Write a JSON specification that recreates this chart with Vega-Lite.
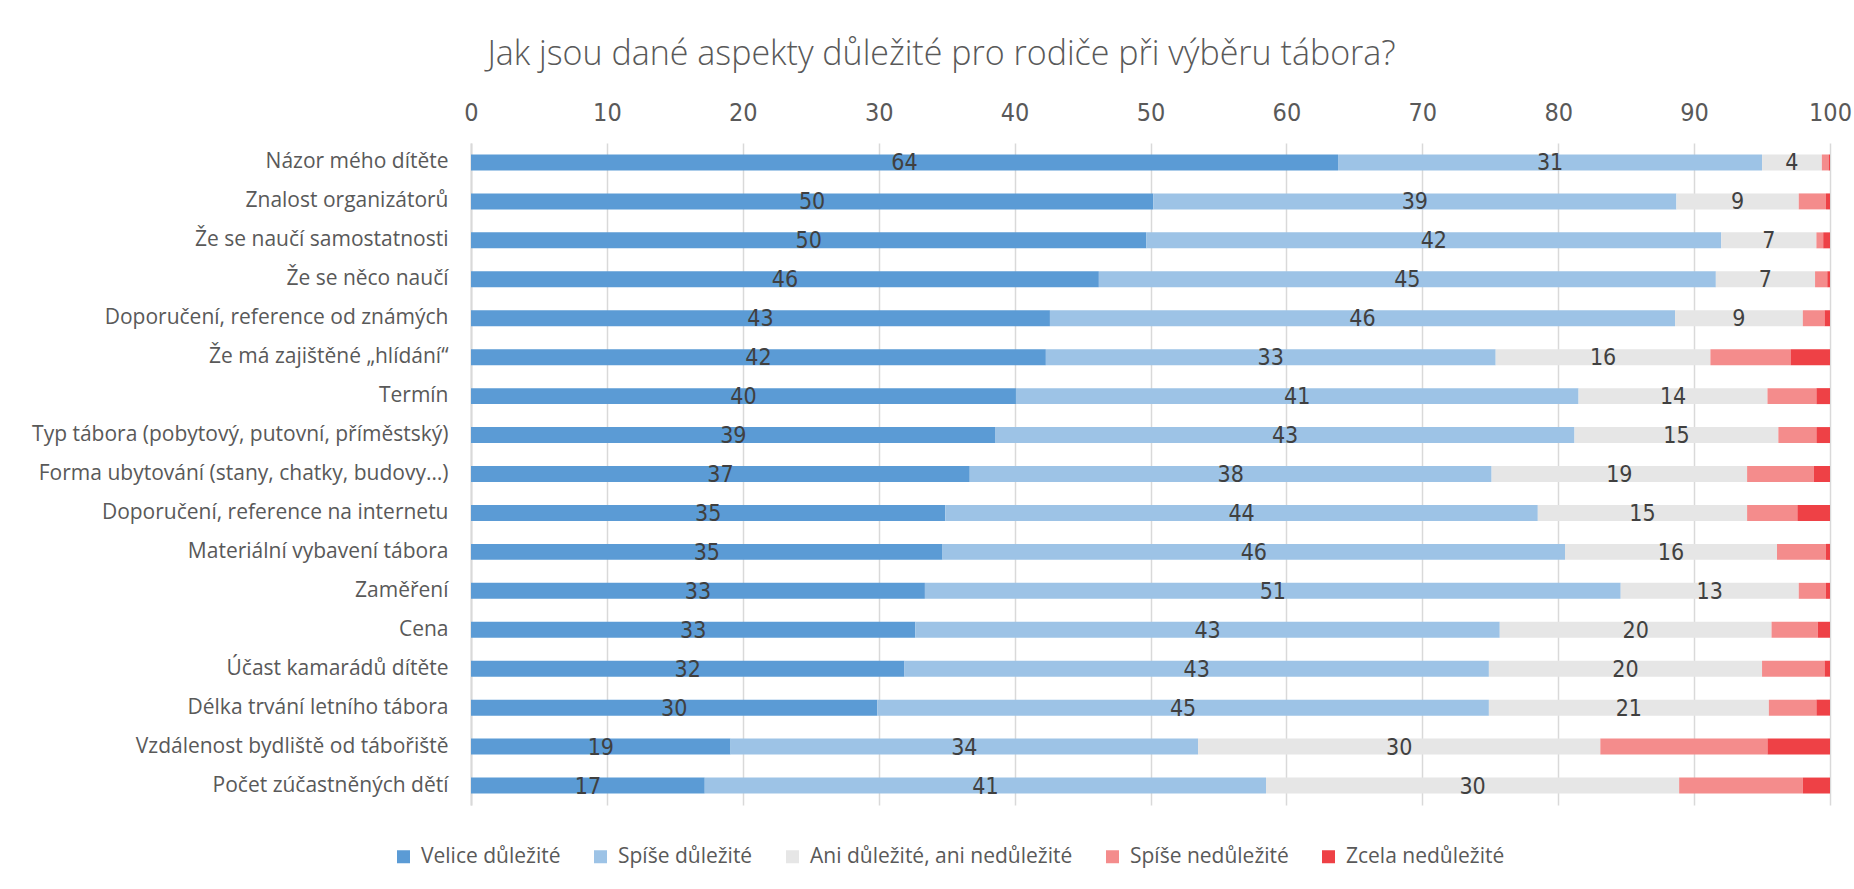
{
  "$schema": "https://vega.github.io/schema/vega-lite/v6.json",
  "autosize": {"type": "none"},
  "width": 1359,
  "height": 662,
  "padding": {"left": 471, "top": 143, "right": 24, "bottom": 84},
  "background": "white",
  "title": {
    "text": "Jak jsou dané aspekty důležité pro rodiče při výběru tábora?",
    "font": "Open Sans",
    "fontSize": 34,
    "fontWeight": 300,
    "color": "#595959",
    "anchor": "middle",
    "frame": "bounds",
    "offset": 28
  },
  "config": {"view": {"stroke": null}},
  "data": {
    "values": [
      {"aspect": "Názor mého dítěte", "level": "Velice důležité", "score": 1, "value": 63.8},
      {"aspect": "Názor mého dítěte", "level": "Spíše důležité", "score": 2, "value": 31.2},
      {"aspect": "Názor mého dítěte", "level": "Ani důležité, ani nedůležité", "score": 3, "value": 4.4},
      {"aspect": "Názor mého dítěte", "level": "Spíše nedůležité", "score": 4, "value": 0.5},
      {"aspect": "Názor mého dítěte", "level": "Zcela nedůležité", "score": 5, "value": 0.1},

      {"aspect": "Znalost organizátorů", "level": "Velice důležité", "score": 1, "value": 50.2},
      {"aspect": "Znalost organizátorů", "level": "Spíše důležité", "score": 2, "value": 38.5},
      {"aspect": "Znalost organizátorů", "level": "Ani důležité, ani nedůležité", "score": 3, "value": 9.0},
      {"aspect": "Znalost organizátorů", "level": "Spíše nedůležité", "score": 4, "value": 2.0},
      {"aspect": "Znalost organizátorů", "level": "Zcela nedůležité", "score": 5, "value": 0.3},

      {"aspect": "Že se naučí samostatnosti", "level": "Velice důležité", "score": 1, "value": 49.7},
      {"aspect": "Že se naučí samostatnosti", "level": "Spíše důležité", "score": 2, "value": 42.3},
      {"aspect": "Že se naučí samostatnosti", "level": "Ani důležité, ani nedůležité", "score": 3, "value": 7.0},
      {"aspect": "Že se naučí samostatnosti", "level": "Spíše nedůležité", "score": 4, "value": 0.5},
      {"aspect": "Že se naučí samostatnosti", "level": "Zcela nedůležité", "score": 5, "value": 0.5},

      {"aspect": "Že se něco naučí", "level": "Velice důležité", "score": 1, "value": 46.2},
      {"aspect": "Že se něco naučí", "level": "Spíše důležité", "score": 2, "value": 45.4},
      {"aspect": "Že se něco naučí", "level": "Ani důležité, ani nedůležité", "score": 3, "value": 7.3},
      {"aspect": "Že se něco naučí", "level": "Spíše nedůležité", "score": 4, "value": 0.9},
      {"aspect": "Že se něco naučí", "level": "Zcela nedůležité", "score": 5, "value": 0.2},

      {"aspect": "Doporučení, reference od známých", "level": "Velice důležité", "score": 1, "value": 42.6},
      {"aspect": "Doporučení, reference od známých", "level": "Spíše důležité", "score": 2, "value": 46.0},
      {"aspect": "Doporučení, reference od známých", "level": "Ani důležité, ani nedůležité", "score": 3, "value": 9.4},
      {"aspect": "Doporučení, reference od známých", "level": "Spíše nedůležité", "score": 4, "value": 1.6},
      {"aspect": "Doporučení, reference od známých", "level": "Zcela nedůležité", "score": 5, "value": 0.4},

      {"aspect": "Že má zajištěné „hlídání“", "level": "Velice důležité", "score": 1, "value": 42.3},
      {"aspect": "Že má zajištěné „hlídání“", "level": "Spíše důležité", "score": 2, "value": 33.1},
      {"aspect": "Že má zajištěné „hlídání“", "level": "Ani důležité, ani nedůležité", "score": 3, "value": 15.8},
      {"aspect": "Že má zajištěné „hlídání“", "level": "Spíše nedůležité", "score": 4, "value": 5.9},
      {"aspect": "Že má zajištěné „hlídání“", "level": "Zcela nedůležité", "score": 5, "value": 2.9},

      {"aspect": "Termín", "level": "Velice důležité", "score": 1, "value": 40.1},
      {"aspect": "Termín", "level": "Spíše důležité", "score": 2, "value": 41.4},
      {"aspect": "Termín", "level": "Ani důležité, ani nedůležité", "score": 3, "value": 13.9},
      {"aspect": "Termín", "level": "Spíše nedůležité", "score": 4, "value": 3.6},
      {"aspect": "Termín", "level": "Zcela nedůležité", "score": 5, "value": 1.0},

      {"aspect": "Typ tábora (pobytový, putovní, příměstský)", "level": "Velice důležité", "score": 1, "value": 38.6},
      {"aspect": "Typ tábora (pobytový, putovní, příměstský)", "level": "Spíše důležité", "score": 2, "value": 42.6},
      {"aspect": "Typ tábora (pobytový, putovní, příměstský)", "level": "Ani důležité, ani nedůležité", "score": 3, "value": 15.0},
      {"aspect": "Typ tábora (pobytový, putovní, příměstský)", "level": "Spíše nedůležité", "score": 4, "value": 2.8},
      {"aspect": "Typ tábora (pobytový, putovní, příměstský)", "level": "Zcela nedůležité", "score": 5, "value": 1.0},

      {"aspect": "Forma ubytování (stany, chatky, budovy…)", "level": "Velice důležité", "score": 1, "value": 36.7},
      {"aspect": "Forma ubytování (stany, chatky, budovy…)", "level": "Spíše důležité", "score": 2, "value": 38.4},
      {"aspect": "Forma ubytování (stany, chatky, budovy…)", "level": "Ani důležité, ani nedůležité", "score": 3, "value": 18.8},
      {"aspect": "Forma ubytování (stany, chatky, budovy…)", "level": "Spíše nedůležité", "score": 4, "value": 4.9},
      {"aspect": "Forma ubytování (stany, chatky, budovy…)", "level": "Zcela nedůležité", "score": 5, "value": 1.2},

      {"aspect": "Doporučení, reference na internetu", "level": "Velice důležité", "score": 1, "value": 34.9},
      {"aspect": "Doporučení, reference na internetu", "level": "Spíše důležité", "score": 2, "value": 43.6},
      {"aspect": "Doporučení, reference na internetu", "level": "Ani důležité, ani nedůležité", "score": 3, "value": 15.4},
      {"aspect": "Doporučení, reference na internetu", "level": "Spíše nedůležité", "score": 4, "value": 3.7},
      {"aspect": "Doporučení, reference na internetu", "level": "Zcela nedůležité", "score": 5, "value": 2.4},

      {"aspect": "Materiální vybavení tábora", "level": "Velice důležité", "score": 1, "value": 34.7},
      {"aspect": "Materiální vybavení tábora", "level": "Spíše důležité", "score": 2, "value": 45.8},
      {"aspect": "Materiální vybavení tábora", "level": "Ani důležité, ani nedůležité", "score": 3, "value": 15.6},
      {"aspect": "Materiální vybavení tábora", "level": "Spíše nedůležité", "score": 4, "value": 3.6},
      {"aspect": "Materiální vybavení tábora", "level": "Zcela nedůležité", "score": 5, "value": 0.3},

      {"aspect": "Zaměření", "level": "Velice důležité", "score": 1, "value": 33.4},
      {"aspect": "Zaměření", "level": "Spíše důležité", "score": 2, "value": 51.2},
      {"aspect": "Zaměření", "level": "Ani důležité, ani nedůležité", "score": 3, "value": 13.1},
      {"aspect": "Zaměření", "level": "Spíše nedůležité", "score": 4, "value": 2.0},
      {"aspect": "Zaměření", "level": "Zcela nedůležité", "score": 5, "value": 0.3},

      {"aspect": "Cena", "level": "Velice důležité", "score": 1, "value": 32.7},
      {"aspect": "Cena", "level": "Spíše důležité", "score": 2, "value": 43.0},
      {"aspect": "Cena", "level": "Ani důležité, ani nedůležité", "score": 3, "value": 20.0},
      {"aspect": "Cena", "level": "Spíše nedůležité", "score": 4, "value": 3.4},
      {"aspect": "Cena", "level": "Zcela nedůležité", "score": 5, "value": 0.9},

      {"aspect": "Účast kamarádů dítěte", "level": "Velice důležité", "score": 1, "value": 31.9},
      {"aspect": "Účast kamarádů dítěte", "level": "Spíše důležité", "score": 2, "value": 43.0},
      {"aspect": "Účast kamarádů dítěte", "level": "Ani důležité, ani nedůležité", "score": 3, "value": 20.1},
      {"aspect": "Účast kamarádů dítěte", "level": "Spíše nedůležité", "score": 4, "value": 4.6},
      {"aspect": "Účast kamarádů dítěte", "level": "Zcela nedůležité", "score": 5, "value": 0.4},

      {"aspect": "Délka trvání letního tábora", "level": "Velice důležité", "score": 1, "value": 29.9},
      {"aspect": "Délka trvání letního tábora", "level": "Spíše důležité", "score": 2, "value": 45.0},
      {"aspect": "Délka trvání letního tábora", "level": "Ani důležité, ani nedůležité", "score": 3, "value": 20.6},
      {"aspect": "Délka trvání letního tábora", "level": "Spíše nedůležité", "score": 4, "value": 3.5},
      {"aspect": "Délka trvání letního tábora", "level": "Zcela nedůležité", "score": 5, "value": 1.0},

      {"aspect": "Vzdálenost bydliště od tábořiště", "level": "Velice důležité", "score": 1, "value": 19.1},
      {"aspect": "Vzdálenost bydliště od tábořiště", "level": "Spíše důležité", "score": 2, "value": 34.4},
      {"aspect": "Vzdálenost bydliště od tábořiště", "level": "Ani důležité, ani nedůležité", "score": 3, "value": 29.6},
      {"aspect": "Vzdálenost bydliště od tábořiště", "level": "Spíše nedůležité", "score": 4, "value": 12.3},
      {"aspect": "Vzdálenost bydliště od tábořiště", "level": "Zcela nedůležité", "score": 5, "value": 4.6},

      {"aspect": "Počet zúčastněných dětí", "level": "Velice důležité", "score": 1, "value": 17.2},
      {"aspect": "Počet zúčastněných dětí", "level": "Spíše důležité", "score": 2, "value": 41.3},
      {"aspect": "Počet zúčastněných dětí", "level": "Ani důležité, ani nedůležité", "score": 3, "value": 30.4},
      {"aspect": "Počet zúčastněných dětí", "level": "Spíše nedůležité", "score": 4, "value": 9.1},
      {"aspect": "Počet zúčastněných dětí", "level": "Zcela nedůležité", "score": 5, "value": 2.0}
    ]
  },
  "encoding": {
    "y": {
      "field": "aspect",
      "type": "nominal",
      "sort": null,
      "scale": {"paddingInner": 0.59, "paddingOuter": 0.295},
      "axis": {
        "title": null,
        "ticks": false,
        "domainColor": "#D9D9D9",
        "domainWidth": 2,
        "labelFont": "Open Sans",
        "labelFontSize": 21,
        "labelColor": "#595959",
        "labelPadding": 23,
        "labelLimit": 0
      }
    }
  },
  "layer": [
    {
      "mark": {"type": "bar"},
      "encoding": {
        "x": {
          "field": "value",
          "type": "quantitative",
          "stack": "zero",
          "scale": {"domain": [0, 100], "nice": false},
          "axis": {
            "orient": "top",
            "title": null,
            "values": [0, 10, 20, 30, 40, 50, 60, 70, 80, 90, 100],
            "grid": true,
            "gridColor": "#D9D9D9",
            "gridWidth": 1.5,
            "domain": false,
            "ticks": false,
            "labelFlush": false,
            "labelFont": "Liberation Sans Narrow, DejaVu Sans Condensed, sans-serif",
            "labelFontSize": 25,
            "labelColor": "#595959",
            "labelPadding": 18
          }
        },
        "color": {
          "field": "level",
          "type": "nominal",
          "sort": ["Velice důležité", "Spíše důležité", "Ani důležité, ani nedůležité", "Spíše nedůležité", "Zcela nedůležité"],
          "scale": {
            "domain": ["Velice důležité", "Spíše důležité", "Ani důležité, ani nedůležité", "Spíše nedůležité", "Zcela nedůležité"],
            "range": ["#5B9BD5", "#9DC3E6", "#E6E6E6", "#F48C8C", "#EE4146"]
          },
          "legend": {
            "title": null,
            "orient": "none",
            "direction": "horizontal",
            "legendX": -78,
            "legendY": 703,
            "padding": 0,
            "symbolType": "square",
            "symbolSize": 169,
            "symbolStrokeWidth": 0,
            "labelFont": "Open Sans",
            "labelFontSize": 21,
            "labelColor": "#595959",
            "labelOffset": 7,
            "columnPadding": 29,
            "labelLimit": 0
          }
        },
        "order": {"field": "score", "type": "quantitative"}
      }
    },
    {
      "transform": [{"filter": "datum.score <= 3"}],
      "mark": {
        "type": "text",
        "font": "Liberation Sans Narrow, DejaVu Sans Condensed, sans-serif",
        "fontSize": 23,
        "color": "#404040",
        "baseline": "middle",
        "align": "center",
        "dy": 1
      },
      "encoding": {
        "x": {"field": "value", "type": "quantitative", "stack": "zero", "bandPosition": 0.5},
        "order": {"field": "score", "type": "quantitative"},
        "text": {"field": "value", "type": "quantitative", "format": ".0f"}
      }
    }
  ]
}
